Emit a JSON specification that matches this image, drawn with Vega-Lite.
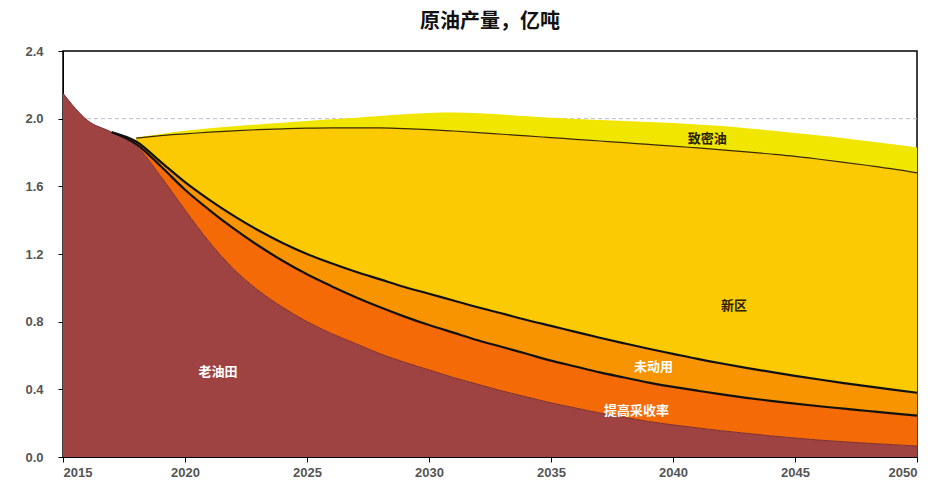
{
  "$schema": "https://vega.github.io/schema/vega-lite/v6.json",
  "width": 854,
  "height": 406,
  "autosize": "none",
  "padding": {"left": 63, "top": 51, "right": 27, "bottom": 33},
  "background": "white",
  "title": {"text": "原油产量，亿吨", "font": "Noto Sans CJK SC", "fontSize": 20, "fontWeight": "bold", "color": "#111", "offset": 13, "anchor": "middle"},
  "config": {
    "view": {"stroke": "#000", "strokeWidth": 1.5},
    "axis": {"grid": false, "domainColor": "#000", "tickColor": "#000", "labelFont": "Liberation Sans", "labelFontSize": 13, "labelFontWeight": "bold", "labelColor": "#555555", "title": null}
  },
  "datasets": {
    "prod": [
      {"yr": 2015, "s": "老油田", "k": 1, "v": 2.15},
      {"yr": 2016, "s": "老油田", "k": 1, "v": 1.99},
      {"yr": 2017, "s": "老油田", "k": 1, "v": 1.92}, {"yr": 2017, "s": "提高采收率", "k": 2, "v": 0}, {"yr": 2017, "s": "未动用", "k": 3, "v": 0},
      {"yr": 2018, "s": "老油田", "k": 1, "v": 1.84}, {"yr": 2018, "s": "提高采收率", "k": 2, "v": 0.01}, {"yr": 2018, "s": "未动用", "k": 3, "v": 0.015}, {"yr": 2018, "s": "新区", "k": 4, "v": 0.02}, {"yr": 2018, "s": "致密油", "k": 5, "v": 0.005},
      {"yr": 2019, "s": "老油田", "k": 1, "v": 1.66}, {"yr": 2019, "s": "提高采收率", "k": 2, "v": 0.06}, {"yr": 2019, "s": "未动用", "k": 3, "v": 0.025}, {"yr": 2019, "s": "新区", "k": 4, "v": 0.155}, {"yr": 2019, "s": "致密油", "k": 5, "v": 0.01},
      {"yr": 2020, "s": "老油田", "k": 1, "v": 1.46}, {"yr": 2020, "s": "提高采收率", "k": 2, "v": 0.12}, {"yr": 2020, "s": "未动用", "k": 3, "v": 0.045}, {"yr": 2020, "s": "新区", "k": 4, "v": 0.285}, {"yr": 2020, "s": "致密油", "k": 5, "v": 0.018},
      {"yr": 2021, "s": "老油田", "k": 1, "v": 1.27}, {"yr": 2021, "s": "提高采收率", "k": 2, "v": 0.19}, {"yr": 2021, "s": "未动用", "k": 3, "v": 0.06}, {"yr": 2021, "s": "新区", "k": 4, "v": 0.40}, {"yr": 2021, "s": "致密油", "k": 5, "v": 0.023},
      {"yr": 2022, "s": "老油田", "k": 1, "v": 1.11}, {"yr": 2022, "s": "提高采收率", "k": 2, "v": 0.24}, {"yr": 2022, "s": "未动用", "k": 3, "v": 0.075}, {"yr": 2022, "s": "新区", "k": 4, "v": 0.503}, {"yr": 2022, "s": "致密油", "k": 5, "v": 0.027},
      {"yr": 2023, "s": "老油田", "k": 1, "v": 0.985}, {"yr": 2023, "s": "提高采收率", "k": 2, "v": 0.265}, {"yr": 2023, "s": "未动用", "k": 3, "v": 0.09}, {"yr": 2023, "s": "新区", "k": 4, "v": 0.595}, {"yr": 2023, "s": "致密油", "k": 5, "v": 0.031},
      {"yr": 2024, "s": "老油田", "k": 1, "v": 0.885}, {"yr": 2024, "s": "提高采收率", "k": 2, "v": 0.275}, {"yr": 2024, "s": "未动用", "k": 3, "v": 0.105}, {"yr": 2024, "s": "新区", "k": 4, "v": 0.675}, {"yr": 2024, "s": "致密油", "k": 5, "v": 0.036},
      {"yr": 2025, "s": "老油田", "k": 1, "v": 0.80}, {"yr": 2025, "s": "提高采收率", "k": 2, "v": 0.28}, {"yr": 2025, "s": "未动用", "k": 3, "v": 0.12}, {"yr": 2025, "s": "新区", "k": 4, "v": 0.744}, {"yr": 2025, "s": "致密油", "k": 5, "v": 0.042},
      {"yr": 2026, "s": "老油田", "k": 1, "v": 0.73}, {"yr": 2026, "s": "提高采收率", "k": 2, "v": 0.28}, {"yr": 2026, "s": "未动用", "k": 3, "v": 0.135}, {"yr": 2026, "s": "新区", "k": 4, "v": 0.801}, {"yr": 2026, "s": "致密油", "k": 5, "v": 0.05},
      {"yr": 2027, "s": "老油田", "k": 1, "v": 0.67}, {"yr": 2027, "s": "提高采收率", "k": 2, "v": 0.275}, {"yr": 2027, "s": "未动用", "k": 3, "v": 0.15}, {"yr": 2027, "s": "新区", "k": 4, "v": 0.851}, {"yr": 2027, "s": "致密油", "k": 5, "v": 0.06},
      {"yr": 2028, "s": "老油田", "k": 1, "v": 0.61}, {"yr": 2028, "s": "提高采收率", "k": 2, "v": 0.275}, {"yr": 2028, "s": "未动用", "k": 3, "v": 0.165}, {"yr": 2028, "s": "新区", "k": 4, "v": 0.895}, {"yr": 2028, "s": "致密油", "k": 5, "v": 0.071},
      {"yr": 2029, "s": "老油田", "k": 1, "v": 0.56}, {"yr": 2029, "s": "提高采收率", "k": 2, "v": 0.27}, {"yr": 2029, "s": "未动用", "k": 3, "v": 0.175}, {"yr": 2029, "s": "新区", "k": 4, "v": 0.936}, {"yr": 2029, "s": "致密油", "k": 5, "v": 0.085},
      {"yr": 2030, "s": "老油田", "k": 1, "v": 0.515}, {"yr": 2030, "s": "提高采收率", "k": 2, "v": 0.265}, {"yr": 2030, "s": "未动用", "k": 3, "v": 0.185}, {"yr": 2030, "s": "新区", "k": 4, "v": 0.97}, {"yr": 2030, "s": "致密油", "k": 5, "v": 0.099},
      {"yr": 2031, "s": "老油田", "k": 1, "v": 0.47}, {"yr": 2031, "s": "提高采收率", "k": 2, "v": 0.265}, {"yr": 2031, "s": "未动用", "k": 3, "v": 0.19}, {"yr": 2031, "s": "新区", "k": 4, "v": 1.002}, {"yr": 2031, "s": "致密油", "k": 5, "v": 0.109},
      {"yr": 2032, "s": "老油田", "k": 1, "v": 0.43}, {"yr": 2032, "s": "提高采收率", "k": 2, "v": 0.26}, {"yr": 2032, "s": "未动用", "k": 3, "v": 0.195}, {"yr": 2032, "s": "新区", "k": 4, "v": 1.033}, {"yr": 2032, "s": "致密油", "k": 5, "v": 0.114},
      {"yr": 2033, "s": "老油田", "k": 1, "v": 0.39}, {"yr": 2033, "s": "提高采收率", "k": 2, "v": 0.26}, {"yr": 2033, "s": "未动用", "k": 3, "v": 0.198}, {"yr": 2033, "s": "新区", "k": 4, "v": 1.06}, {"yr": 2033, "s": "致密油", "k": 5, "v": 0.116},
      {"yr": 2034, "s": "老油田", "k": 1, "v": 0.355}, {"yr": 2034, "s": "提高采收率", "k": 2, "v": 0.255}, {"yr": 2034, "s": "未动用", "k": 3, "v": 0.20}, {"yr": 2034, "s": "新区", "k": 4, "v": 1.088}, {"yr": 2034, "s": "致密油", "k": 5, "v": 0.116},
      {"yr": 2035, "s": "老油田", "k": 1, "v": 0.32}, {"yr": 2035, "s": "提高采收率", "k": 2, "v": 0.25}, {"yr": 2035, "s": "未动用", "k": 3, "v": 0.205}, {"yr": 2035, "s": "新区", "k": 4, "v": 1.113}, {"yr": 2035, "s": "致密油", "k": 5, "v": 0.117},
      {"yr": 2036, "s": "老油田", "k": 1, "v": 0.29}, {"yr": 2036, "s": "提高采收率", "k": 2, "v": 0.245}, {"yr": 2036, "s": "未动用", "k": 3, "v": 0.205}, {"yr": 2036, "s": "新区", "k": 4, "v": 1.138}, {"yr": 2036, "s": "致密油", "k": 5, "v": 0.12},
      {"yr": 2037, "s": "老油田", "k": 1, "v": 0.26}, {"yr": 2037, "s": "提高采收率", "k": 2, "v": 0.24}, {"yr": 2037, "s": "未动用", "k": 3, "v": 0.205}, {"yr": 2037, "s": "新区", "k": 4, "v": 1.163}, {"yr": 2037, "s": "致密油", "k": 5, "v": 0.124},
      {"yr": 2038, "s": "老油田", "k": 1, "v": 0.235}, {"yr": 2038, "s": "提高采收率", "k": 2, "v": 0.235}, {"yr": 2038, "s": "未动用", "k": 3, "v": 0.202}, {"yr": 2038, "s": "新区", "k": 4, "v": 1.186}, {"yr": 2038, "s": "致密油", "k": 5, "v": 0.128},
      {"yr": 2039, "s": "老油田", "k": 1, "v": 0.21}, {"yr": 2039, "s": "提高采收率", "k": 2, "v": 0.23}, {"yr": 2039, "s": "未动用", "k": 3, "v": 0.20}, {"yr": 2039, "s": "新区", "k": 4, "v": 1.208}, {"yr": 2039, "s": "致密油", "k": 5, "v": 0.132},
      {"yr": 2040, "s": "老油田", "k": 1, "v": 0.19}, {"yr": 2040, "s": "提高采收率", "k": 2, "v": 0.225}, {"yr": 2040, "s": "未动用", "k": 3, "v": 0.195}, {"yr": 2040, "s": "新区", "k": 4, "v": 1.228}, {"yr": 2040, "s": "致密油", "k": 5, "v": 0.136},
      {"yr": 2041, "s": "老油田", "k": 1, "v": 0.172}, {"yr": 2041, "s": "提高采收率", "k": 2, "v": 0.22}, {"yr": 2041, "s": "未动用", "k": 3, "v": 0.188}, {"yr": 2041, "s": "新区", "k": 4, "v": 1.247}, {"yr": 2041, "s": "致密油", "k": 5, "v": 0.139},
      {"yr": 2042, "s": "老油田", "k": 1, "v": 0.155}, {"yr": 2042, "s": "提高采收率", "k": 2, "v": 0.215}, {"yr": 2042, "s": "未动用", "k": 3, "v": 0.183}, {"yr": 2042, "s": "新区", "k": 4, "v": 1.263}, {"yr": 2042, "s": "致密油", "k": 5, "v": 0.14},
      {"yr": 2043, "s": "老油田", "k": 1, "v": 0.14}, {"yr": 2043, "s": "提高采收率", "k": 2, "v": 0.21}, {"yr": 2043, "s": "未动用", "k": 3, "v": 0.177}, {"yr": 2043, "s": "新区", "k": 4, "v": 1.277}, {"yr": 2043, "s": "致密油", "k": 5, "v": 0.14},
      {"yr": 2044, "s": "老油田", "k": 1, "v": 0.125}, {"yr": 2044, "s": "提高采收率", "k": 2, "v": 0.207}, {"yr": 2044, "s": "未动用", "k": 3, "v": 0.171}, {"yr": 2044, "s": "新区", "k": 4, "v": 1.288}, {"yr": 2044, "s": "致密油", "k": 5, "v": 0.139},
      {"yr": 2045, "s": "老油田", "k": 1, "v": 0.112}, {"yr": 2045, "s": "提高采收率", "k": 2, "v": 0.203}, {"yr": 2045, "s": "未动用", "k": 3, "v": 0.165}, {"yr": 2045, "s": "新区", "k": 4, "v": 1.297}, {"yr": 2045, "s": "致密油", "k": 5, "v": 0.138},
      {"yr": 2046, "s": "老油田", "k": 1, "v": 0.10}, {"yr": 2046, "s": "提高采收率", "k": 2, "v": 0.20}, {"yr": 2046, "s": "未动用", "k": 3, "v": 0.158}, {"yr": 2046, "s": "新区", "k": 4, "v": 1.302}, {"yr": 2046, "s": "致密油", "k": 5, "v": 0.14},
      {"yr": 2047, "s": "老油田", "k": 1, "v": 0.09}, {"yr": 2047, "s": "提高采收率", "k": 2, "v": 0.196}, {"yr": 2047, "s": "未动用", "k": 3, "v": 0.151}, {"yr": 2047, "s": "新区", "k": 4, "v": 1.305}, {"yr": 2047, "s": "致密油", "k": 5, "v": 0.142},
      {"yr": 2048, "s": "老油田", "k": 1, "v": 0.081}, {"yr": 2048, "s": "提高采收率", "k": 2, "v": 0.191}, {"yr": 2048, "s": "未动用", "k": 3, "v": 0.145}, {"yr": 2048, "s": "新区", "k": 4, "v": 1.306}, {"yr": 2048, "s": "致密油", "k": 5, "v": 0.144},
      {"yr": 2049, "s": "老油田", "k": 1, "v": 0.073}, {"yr": 2049, "s": "提高采收率", "k": 2, "v": 0.185}, {"yr": 2049, "s": "未动用", "k": 3, "v": 0.14}, {"yr": 2049, "s": "新区", "k": 4, "v": 1.305}, {"yr": 2049, "s": "致密油", "k": 5, "v": 0.146},
      {"yr": 2050, "s": "老油田", "k": 1, "v": 0.065}, {"yr": 2050, "s": "提高采收率", "k": 2, "v": 0.18}, {"yr": 2050, "s": "未动用", "k": 3, "v": 0.135}, {"yr": 2050, "s": "新区", "k": 4, "v": 1.30}, {"yr": 2050, "s": "致密油", "k": 5, "v": 0.15}
    ],
    "labelsLight": [
      {"yr": 2021.35, "val": 0.50, "t": "老油田"},
      {"yr": 2039.2, "val": 0.53, "t": "未动用"},
      {"yr": 2038.5, "val": 0.27, "t": "提高采收率"}
    ],
    "labelsDark": [
      {"yr": 2042.5, "val": 0.89, "t": "新区"},
      {"yr": 2041.4, "val": 1.88, "t": "致密油"}
    ]
  },
  "encoding": {
    "x": {"field": "yr", "type": "quantitative", "scale": {"domain": [2015, 2050], "nice": false}, "axis": {"values": [2015, 2020, 2025, 2030, 2035, 2040, 2045, 2050], "format": "d", "tickSize": 5, "labelPadding": 4}}
  },
  "layer": [
    {
      "data": {"values": [{"ref": 2.0}]},
      "mark": {"type": "rule", "color": "#b9bccc", "strokeDash": [4, 3], "strokeWidth": 1},
      "encoding": {"x": null, "y": {"field": "ref", "type": "quantitative"}}
    },
    {
      "data": {"name": "prod"},
      "transform": [{"stack": "v", "groupby": ["yr"], "sort": [{"field": "k", "order": "ascending"}], "as": ["y0", "y1"]}],
      "layer": [
        {
          "mark": {"type": "area", "interpolate": "monotone"},
          "encoding": {
            "y": {"field": "y1", "type": "quantitative", "scale": {"domain": [0, 2.4], "nice": false}, "axis": {"values": [0, 0.4, 0.8, 1.2, 1.6, 2.0, 2.4], "format": ".1f", "tickSize": 5, "labelPadding": 15}},
            "y2": {"field": "y0"},
            "color": {"field": "s", "type": "nominal", "legend": null,
              "scale": {"domain": ["老油田", "提高采收率", "未动用", "新区", "致密油"], "range": ["#9e4341", "#f46a06", "#f79400", "#fcca02", "#f0e600"]}}
          }
        },
        {
          "transform": [{"filter": "datum.k == 1"}],
          "mark": {"type": "line", "interpolate": "monotone", "color": "#7d2e2c", "strokeWidth": 1},
          "encoding": {"y": {"field": "y1", "type": "quantitative"}}
        },
        {
          "transform": [{"filter": "datum.k == 4"}],
          "mark": {"type": "line", "interpolate": "monotone", "color": "#3a2a00", "strokeWidth": 1.2},
          "encoding": {"y": {"field": "y1", "type": "quantitative"}}
        },
        {
          "transform": [{"filter": "datum.k == 2 || datum.k == 3"}],
          "mark": {"type": "line", "interpolate": "monotone", "color": "#111", "strokeWidth": 2.2},
          "encoding": {"y": {"field": "y1", "type": "quantitative"}, "detail": {"field": "s"}}
        }
      ]
    },
    {
      "data": {"name": "labelsLight"},
      "mark": {"type": "text", "font": "Noto Sans CJK SC", "fontSize": 13, "fontWeight": "bold", "color": "#ffffff"},
      "encoding": {"y": {"field": "val", "type": "quantitative"}, "text": {"field": "t"}}
    },
    {
      "data": {"name": "labelsDark"},
      "mark": {"type": "text", "font": "Noto Sans CJK SC", "fontSize": 13, "fontWeight": "bold", "color": "#2b2200"},
      "encoding": {"y": {"field": "val", "type": "quantitative"}, "text": {"field": "t"}}
    }
  ]
}
